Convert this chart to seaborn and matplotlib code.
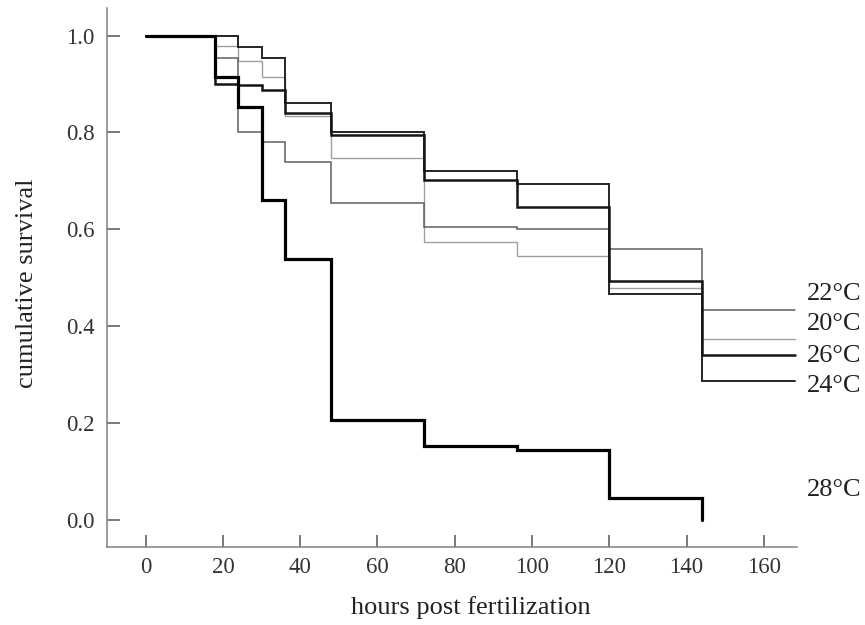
import matplotlib
matplotlib.use("Agg")
import matplotlib.pyplot as plt
import seaborn as sns
import pandas as pd

# Kaplan-Meier style survival estimates by incubation temperature
hours = [0, 18, 24, 30, 36, 48, 72, 96, 120, 144, 168]
surv_20 = [1.0, 0.979, 0.948, 0.914, 0.835, 0.747, 0.574, 0.546, 0.479, 0.375, 0.375]
surv_22 = [1.0, 0.953, 0.800, 0.780, 0.740, 0.655, 0.606, 0.600, 0.560, 0.434, 0.434]
surv_24 = [1.0, 1.000, 0.976, 0.954, 0.861, 0.800, 0.720, 0.694, 0.466, 0.287, 0.287]
surv_26 = [1.0, 0.900, 0.898, 0.887, 0.841, 0.794, 0.701, 0.646, 0.493, 0.340, 0.340]
hours_28 = [0, 18, 24, 30, 36, 48, 72, 96, 120, 144]
surv_28 = [1.0, 0.914, 0.852, 0.660, 0.540, 0.207, 0.153, 0.146, 0.046, 0.0]

temps = ["20°C", "22°C", "24°C", "26°C", "28°C"]
series = {
    "20°C": (hours, surv_20),
    "22°C": (hours, surv_22),
    "24°C": (hours, surv_24),
    "26°C": (hours, surv_26),
    "28°C": (hours_28, surv_28),
}
styles = {
    "20°C": dict(color="#a0a0a0", lw=1.0),
    "22°C": dict(color="#606060", lw=1.1),
    "24°C": dict(color="#262626", lw=1.4),
    "26°C": dict(color="#151515", lw=1.8),
    "28°C": dict(color="#000000", lw=2.3),
}
# label anchor heights for the curve names at the right edge
label_y = {"22°C": 0.466, "20°C": 0.404, "26°C": 0.338, "24°C": 0.278, "28°C": 0.062}

sns.set_theme(style="ticks")
plt.rcParams["font.family"] = ["Liberation Serif", "DejaVu Serif"]

fig = plt.figure(figsize=(8.65, 6.25), dpi=100)
ax = fig.add_axes([0.1237, 0.1248, 0.7973, 0.8618])

for t in temps:
    x, y = series[t]
    df = pd.DataFrame({"hours": x, "survival": y})
    sns.lineplot(data=df, x="hours", y="survival", ax=ax, estimator=None,
                 drawstyle="steps-post", color=styles[t]["color"],
                 linewidth=styles[t]["lw"], solid_joinstyle="miter")

for t, yv in label_y.items():
    ax.text(171.2, yv, t, ha="left", va="center", fontsize=19, color="#222222")

ax.set_xlim(-10, 168.5)
ax.set_ylim(-0.055, 1.056)
ax.set_xticks([0, 20, 40, 60, 80, 100, 120, 140, 160])
ax.set_yticks([0.0, 0.2, 0.4, 0.6, 0.8, 1.0])
ax.set_yticklabels(["0.0", "0.2", "0.4", "0.6", "0.8", "1.0"])
ax.set_xlabel("hours post fertilization", fontsize=19, color="#222222")
ax.set_ylabel("cumulative survival", fontsize=19, color="#222222")
ax.xaxis.set_label_coords(0.527, -0.091)
ax.yaxis.set_label_coords(-0.100, 0.49)

for s in ["top", "right"]:
    ax.spines[s].set_visible(False)
for s in ["left", "bottom"]:
    ax.spines[s].set_color("#7f7f7f")
    ax.spines[s].set_linewidth(1.1)
ax.tick_params(direction="in", length=9, width=1.1, color="#555555",
               labelsize=16.5, labelcolor="#333333")
ax.tick_params(axis="y", pad=9)
ax.tick_params(axis="x", pad=7)

fig.savefig("out.png", dpi=100)
